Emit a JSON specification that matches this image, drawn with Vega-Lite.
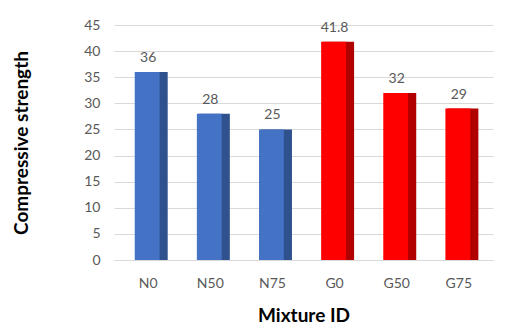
{
  "$schema": "https://vega.github.io/schema/vega-lite/v6.json",
  "width": 505,
  "height": 329,
  "autosize": {"type": "fit", "contains": "padding"},
  "padding": {"left": 12, "right": 12, "top": 18, "bottom": 4},
  "background": "white",
  "config": {
    "font": "Lato",
    "view": {"stroke": null},
    "axis": {"labelColor": "#595959", "labelFontSize": 14, "titleColor": "#000000", "titleFontSize": 19, "titleFontWeight": "bold"}
  },
  "data": {
    "values": [
      {"mix": "N0", "strength": 36, "label": "36", "group": "N"},
      {"mix": "N50", "strength": 28, "label": "28", "group": "N"},
      {"mix": "N75", "strength": 25, "label": "25", "group": "N"},
      {"mix": "G0", "strength": 41.8, "label": "41.8", "group": "G"},
      {"mix": "G50", "strength": 32, "label": "32", "group": "G"},
      {"mix": "G75", "strength": 29, "label": "29", "group": "G"}
    ]
  },
  "encoding": {
    "x": {
      "field": "mix", "type": "nominal", "sort": null,
      "scale": {"paddingInner": 0.5, "paddingOuter": 0.3},
      "axis": {"title": "Mixture ID", "labelAngle": 0, "domain": true, "domainColor": "#D9D9D9", "ticks": false, "labelPadding": 16, "titlePadding": 16}
    },
    "y": {
      "field": "strength", "type": "quantitative",
      "scale": {"domain": [0, 45]},
      "axis": {"title": "Compressive strength", "values": [0,5,10,15,20,25,30,35,40,45], "domain": false, "ticks": false, "gridColor": "#D9D9D9", "labelPadding": 14, "titlePadding": 52}
    }
  },
  "layer": [
    {
      "mark": {"type": "bar", "width": {"band": 1.0}, "xOffset": 4},
      "encoding": {
        "color": {"field": "group", "type": "nominal", "scale": {"domain": ["N", "G"], "range": ["#2F528F", "#B00000"]}, "legend": null}
      }
    },
    {
      "mark": {"type": "bar", "width": {"band": 0.8}, "xOffset": -1},
      "encoding": {
        "fill": {"field": "group", "type": "nominal", "scale": {"domain": ["N", "G"], "range": ["#4472C4", "#FF0000"]}, "legend": null}
      }
    },
    {
      "mark": {"type": "text", "dy": -14, "fontSize": 14, "color": "#595959"},
      "encoding": {"text": {"field": "label"}}
    }
  ],
  "resolve": {"scale": {"color": "independent", "fill": "independent"}}
}
